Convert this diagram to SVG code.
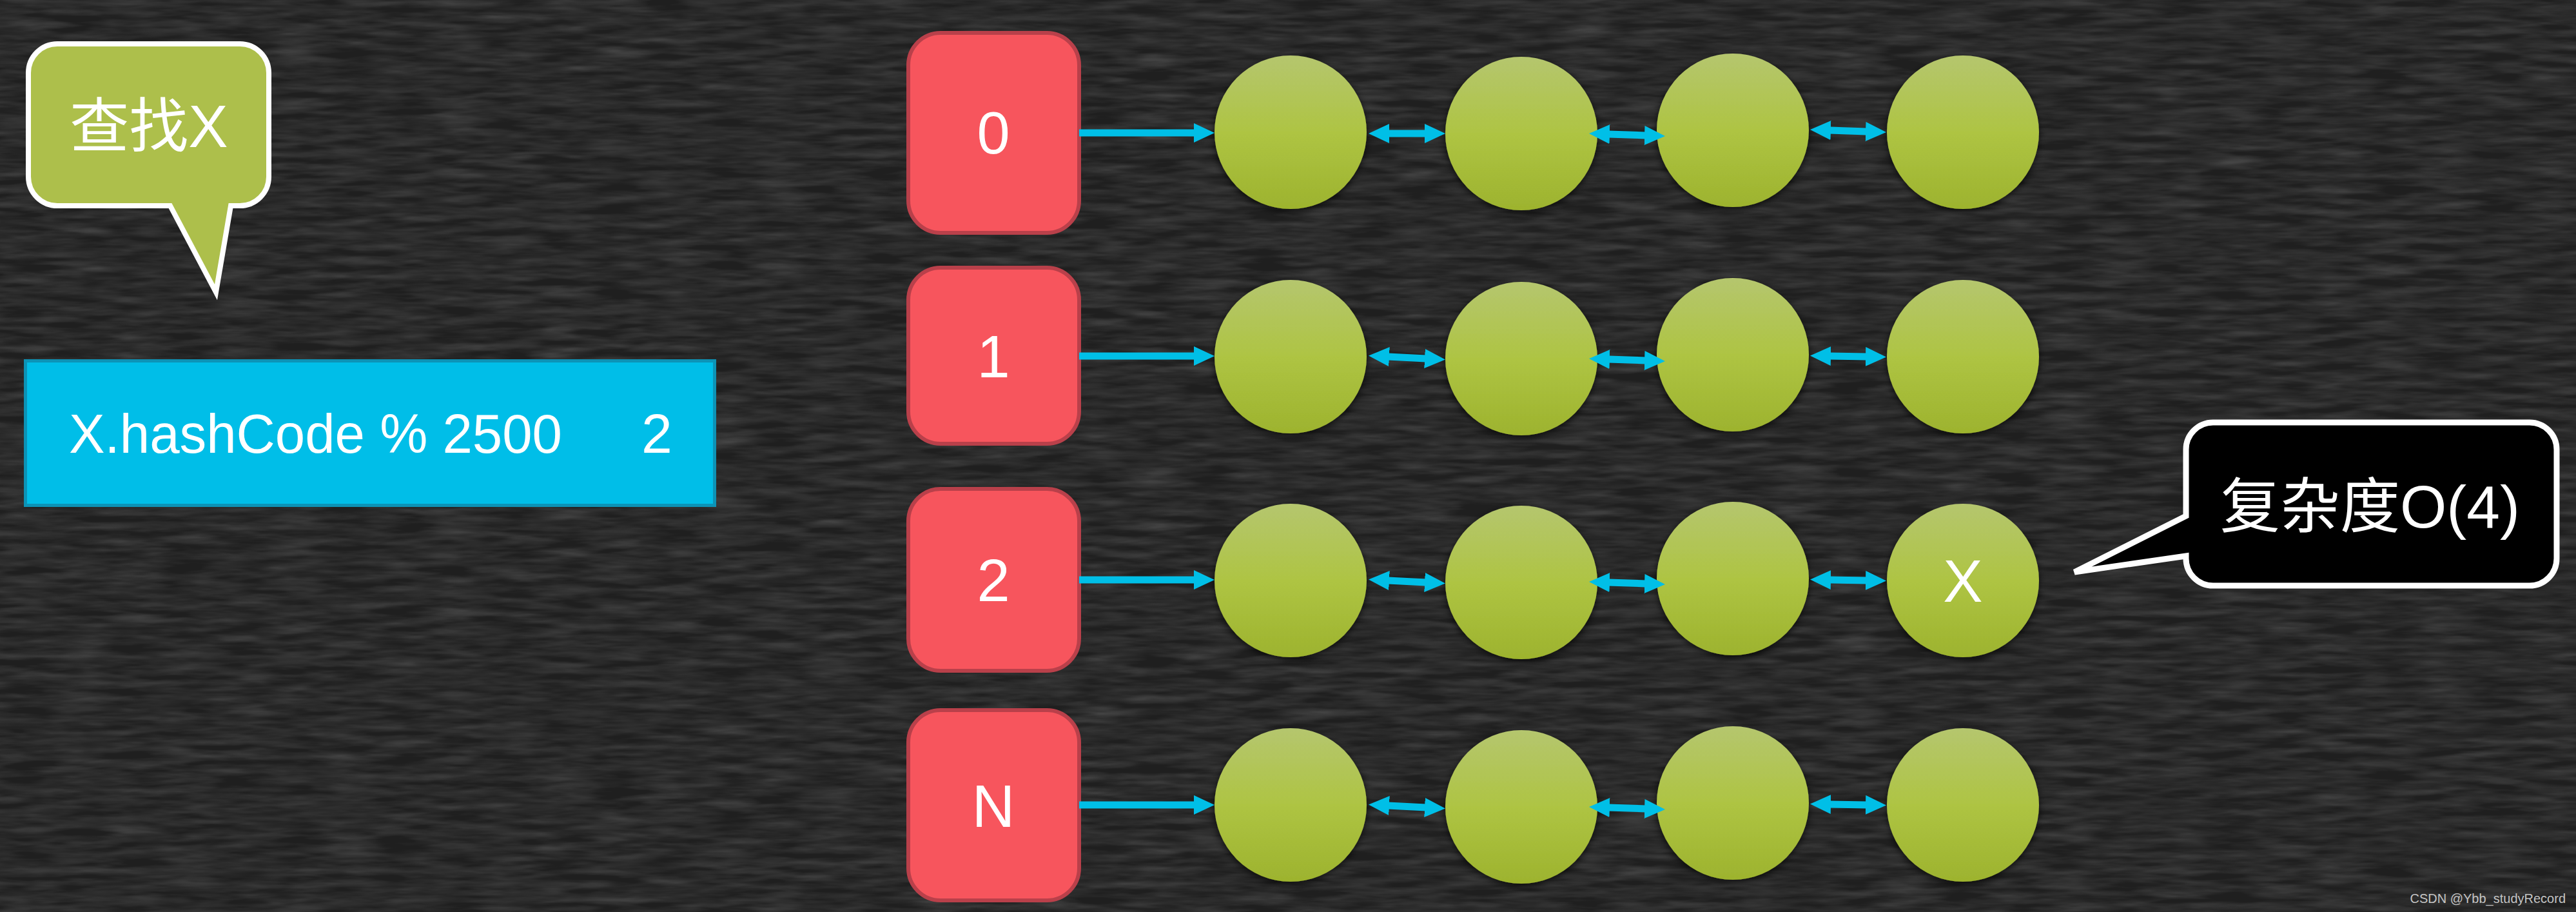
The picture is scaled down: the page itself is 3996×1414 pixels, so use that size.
<svg xmlns="http://www.w3.org/2000/svg" width="3996" height="1414" viewBox="0 0 3996 1414">
<style>
.bg{fill:#1f1f1f}
.bucket rect{fill:#F7555D;stroke:#B9404A;stroke-width:6}
.lbl{font-family:"Liberation Sans","Noto Sans CJK SC",Arial,sans-serif;fill:#ffffff}
.bl{font-size:92px;text-anchor:middle}
.node ellipse{fill:url(#gg);filter:url(#sh)}
.conn line{stroke:#00BFE7;stroke-width:11}
.one{marker-end:url(#ah)}
.two{marker-start:url(#ah);marker-end:url(#ah)}
</style>
<defs>
<linearGradient id="gg" x1="0" y1="0" x2="0" y2="1">
<stop offset="0" stop-color="#B5C66E"/>
<stop offset="0.5" stop-color="#AEC443"/>
<stop offset="1" stop-color="#9DB32E"/>
</linearGradient>
<filter id="sh" x="-20%" y="-20%" width="140%" height="140%">
<feDropShadow dx="0" dy="4" stdDeviation="6" flood-color="#000" flood-opacity="0.7"/>
</filter>
<filter id="chalk" x="0" y="0" width="100%" height="100%">
<feTurbulence type="fractalNoise" baseFrequency="0.012 0.09" numOctaves="3" seed="7"/>
<feColorMatrix type="matrix" values="0 0 0 0 1 0 0 0 0 1 0 0 0 0 1 0.14 0.14 0.14 0 -0.16"/>
</filter>
<marker id="ah" viewBox="0 0 32 30" markerWidth="32" markerHeight="30" refX="2" refY="15" orient="auto-start-reverse" markerUnits="userSpaceOnUse">
<path d="M0,0 L32,15 L0,30 Z" fill="#00BFE7"/>
</marker>
</defs>

<g id="background">
<rect class="bg" x="0" y="0" width="3996" height="1414"/>
<rect x="0" y="0" width="3996" height="1414" fill="#fff" filter="url(#chalk)"/>
</g>

<g id="callout-find">
<path d="M89 68 H372 A45 45 0 0 1 417 113 V274 A45 45 0 0 1 372 319 H358 L335 453 L264 319 H89 A45 45 0 0 1 44 274 V113 A45 45 0 0 1 89 68 Z" fill="#ADBF4B" stroke="#ffffff" stroke-width="8" stroke-linejoin="miter"/>
<text class="lbl" x="231" y="228" font-size="92" text-anchor="middle">查找X</text>
</g>

<g id="hash-box">
<rect x="39.5" y="559.5" width="1069" height="224" fill="#00BEE8" stroke="#0C93B6" stroke-width="5"/>
<text class="lbl" x="107" y="702" font-size="86" textLength="765" lengthAdjust="spacingAndGlyphs">X.hashCode % 2500</text>
<text class="lbl" x="995" y="702" font-size="86">2</text>
</g>

<g id="bucket-0" class="bucket">
<rect x="1409" y="51" width="265" height="310" rx="50" ry="50"/>
<text class="lbl bl" x="1541" y="238">0</text>
</g>
<g id="bucket-1" class="bucket">
<rect x="1409" y="415" width="265" height="273" rx="50" ry="50"/>
<text class="lbl bl" x="1541" y="585">1</text>
</g>
<g id="bucket-2" class="bucket">
<rect x="1409" y="758" width="265" height="282" rx="50" ry="50"/>
<text class="lbl bl" x="1541" y="932">2</text>
</g>
<g id="bucket-N" class="bucket">
<rect x="1409" y="1101" width="265" height="295" rx="50" ry="50"/>
<text class="lbl bl" x="1541" y="1282">N</text>
</g>

<g id="n0-1" class="node"><ellipse cx="2002" cy="205" rx="118" ry="119"/></g>
<g id="n0-2" class="node"><ellipse cx="2360" cy="207" rx="118" ry="119"/></g>
<g id="n0-3" class="node"><ellipse cx="2688" cy="202" rx="118" ry="119"/></g>
<g id="n0-4" class="node"><ellipse cx="3045" cy="205" rx="118" ry="119"/></g>

<g id="n1-1" class="node"><ellipse cx="2002" cy="553" rx="118" ry="119"/></g>
<g id="n1-2" class="node"><ellipse cx="2360" cy="556" rx="118" ry="119"/></g>
<g id="n1-3" class="node"><ellipse cx="2688" cy="550" rx="118" ry="119"/></g>
<g id="n1-4" class="node"><ellipse cx="3045" cy="553" rx="118" ry="119"/></g>

<g id="n2-1" class="node"><ellipse cx="2002" cy="900" rx="118" ry="119"/></g>
<g id="n2-2" class="node"><ellipse cx="2360" cy="903" rx="118" ry="119"/></g>
<g id="n2-3" class="node"><ellipse cx="2688" cy="897" rx="118" ry="119"/></g>
<g id="n2-4" class="node"><ellipse cx="3045" cy="900" rx="118" ry="119"/><text class="lbl bl" x="3045" y="933">X</text></g>

<g id="n3-1" class="node"><ellipse cx="2002" cy="1248" rx="118" ry="119"/></g>
<g id="n3-2" class="node"><ellipse cx="2360" cy="1251" rx="118" ry="119"/></g>
<g id="n3-3" class="node"><ellipse cx="2688" cy="1245" rx="118" ry="119"/></g>
<g id="n3-4" class="node"><ellipse cx="3045" cy="1248" rx="118" ry="119"/></g>

<g id="connectors" class="conn">
<line class="one" x1="1674" y1="206" x2="1854" y2="206"/>
<line class="two" x1="2153" y1="207" x2="2212" y2="207"/>
<line class="two" x1="2495" y1="208" x2="2553" y2="210"/>
<line class="two" x1="2838" y1="202" x2="2896" y2="204"/>

<line class="one" x1="1674" y1="552" x2="1854" y2="552"/>
<line class="two" x1="2153" y1="553" x2="2212" y2="556"/>
<line class="two" x1="2495" y1="557" x2="2553" y2="559"/>
<line class="two" x1="2838" y1="552" x2="2896" y2="553"/>

<line class="one" x1="1674" y1="899" x2="1854" y2="899"/>
<line class="two" x1="2153" y1="900" x2="2212" y2="903"/>
<line class="two" x1="2495" y1="903" x2="2553" y2="905"/>
<line class="two" x1="2838" y1="899" x2="2896" y2="900"/>

<line class="one" x1="1674" y1="1248" x2="1854" y2="1248"/>
<line class="two" x1="2153" y1="1249" x2="2212" y2="1252"/>
<line class="two" x1="2495" y1="1252" x2="2553" y2="1254"/>
<line class="two" x1="2838" y1="1247" x2="2896" y2="1248"/>
</g>

<g id="callout-complexity">
<path d="M3433 655 H3924 A42 42 0 0 1 3966 697 V866 A42 42 0 0 1 3924 908 H3433 A42 42 0 0 1 3391 866 V862 L3218 887 L3391 800 V697 A42 42 0 0 1 3433 655 Z" fill="#000000" stroke="#ffffff" stroke-width="9" stroke-linejoin="miter"/>
<text class="lbl" x="3444" y="818" font-size="93">复杂度O(4)</text>
</g>

<g id="watermark">
<text x="3980" y="1400" font-family="Liberation Sans, Arial, sans-serif" font-size="20" fill="#c4c4c4" text-anchor="end">CSDN @Ybb_studyRecord</text>
</g>
</svg>
